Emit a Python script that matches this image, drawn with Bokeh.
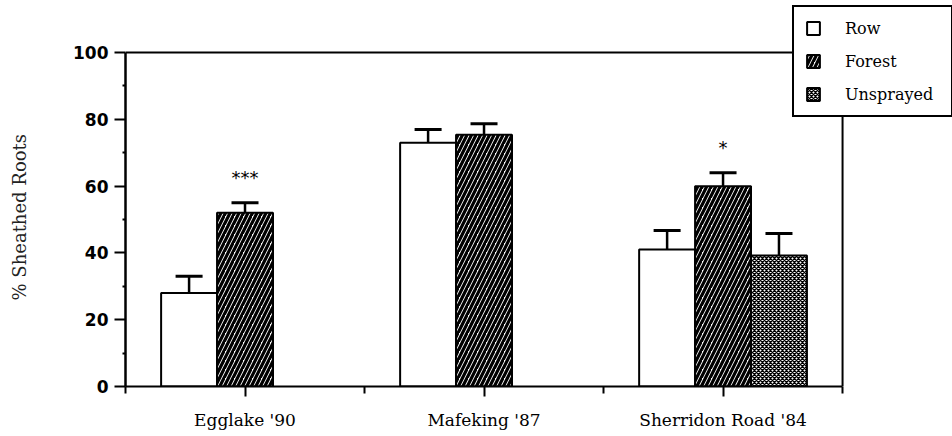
from bokeh.plotting import figure
from bokeh.models import (ColumnDataSource, Range1d, FixedTicker, Whisker, TeeHead,
                          Legend, LegendItem, Title, LinearAxis)
from bokeh.core.properties import value
from bokeh.embed import file_html
from bokeh.resources import INLINE

# Percentage of sheathed roots per site and treatment (mean and standard error)
sites = ["Egglake '90", "Mafeking '87", "Sherridon Road '84"]
row_mean = [28.0, 73.0, 41.0]
row_se = [5.0, 4.0, 5.7]
forest_mean = [52.0, 75.4, 60.0]
forest_se = [3.0, 3.3, 4.0]
unsprayed_sites = ["Sherridon Road '84"]
unsprayed_mean = [39.2]
unsprayed_se = [6.6]
significance = ["***", "", "*"]

y_ticks = [0, 20, 40, 60, 80, 100]
y_minor = [10, 30, 50, 70, 90]

# data box limits; the frame is a little larger so the legend can overhang the box
X_LIM = (0, 3)
Y_LIM = (0, 100)
X_VIEW_END = 3.46
Y_VIEW_END = 115.6

BAR_W = 0.234
centers = {s: i + 0.5 for i, s in enumerate(sites)}


def make_source(site_list, means, ses, offset):
    xs = [centers[s] + offset for s in site_list]
    return ColumnDataSource(dict(
        x=xs, top=means, upper=[m + e for m, e in zip(means, ses)]))


src_row = make_source(sites, row_mean, row_se, -BAR_W)
src_forest = make_source(sites, forest_mean, forest_se, 0.0)
src_unspr = make_source(unsprayed_sites, unsprayed_mean, unsprayed_se, BAR_W)

p = figure(width=952, height=436, output_backend="svg", toolbar_location=None,
           x_range=Range1d(X_LIM[0], X_VIEW_END),
           y_range=Range1d(Y_LIM[0], Y_VIEW_END),
           min_border_left=125, min_border_right=0,
           min_border_top=0, min_border_bottom=50)
p.background_fill_color = "white"
p.border_fill_color = "white"
p.outline_line_color = None
p.xgrid.visible = False
p.ygrid.visible = False

# top and right edges of the data box
p.line(x=[X_LIM[0], X_LIM[1], X_LIM[1]], y=[Y_LIM[1], Y_LIM[1], Y_LIM[0]],
       line_color="black", line_width=2)

# error bars (drawn first so the bars cover the lower half of each stem)
for src in (src_row, src_forest, src_unspr):
    w = Whisker(source=src, base="x", upper="upper", lower="top",
                line_color="black", line_width=2.5,
                upper_head=TeeHead(size=27, line_width=3, line_color="black"),
                lower_head=None, level="underlay")
    p.add_layout(w)

r_row = p.vbar(x="x", top="top", width=BAR_W, bottom=0, source=src_row,
               fill_color="white", line_color="black", line_width=2)
r_forest = p.vbar(x="x", top="top", width=BAR_W, bottom=0, source=src_forest,
                  fill_color="white", line_color="black", line_width=2,
                  hatch_pattern="/", hatch_color="black", hatch_scale=9,
                  hatch_weight=3.2)
r_unspr = p.vbar(x="x", top="top", width=BAR_W, bottom=0, source=src_unspr,
                 fill_color="white", line_color="black", line_width=2,
                 hatch_pattern="x", hatch_color="black", hatch_scale=4,
                 hatch_weight=1.4)

# significance markers above the Forest error bars
star_src = ColumnDataSource(dict(
    x=[centers[s] for s in sites],
    y=[m + e + 7.5 for m, e in zip(forest_mean, forest_se)],
    t=significance))
p.text(x="x", y="y", text="t", source=star_src, text_align="center",
       text_baseline="middle", text_font=value("DejaVu Sans"),
       text_font_size="18px", text_color="black")

# axes
xa = p.xaxis[0]
xa.bounds = X_LIM
xa.ticker = FixedTicker(ticks=[0.5, 1.5, 2.5], minor_ticks=[0, 1, 2, 3])
xa.major_label_overrides = {0.5: sites[0], 1.5: sites[1], 2.5: sites[2]}
xa.major_label_text_font = "DejaVu Serif"
xa.major_label_text_font_size = "17px"
xa.major_label_text_color = "black"
xa.major_label_standoff = 13
xa.major_tick_out = 10
xa.major_tick_in = 0
xa.minor_tick_out = 7
xa.minor_tick_in = 0
xa.axis_line_width = 2
xa.major_tick_line_width = 2
xa.minor_tick_line_width = 2

ya = p.yaxis[0]
ya.bounds = Y_LIM
ya.ticker = FixedTicker(ticks=y_ticks, minor_ticks=y_minor)
ya.major_label_text_font = "DejaVu Sans"
ya.major_label_text_font_style = "bold"
ya.major_label_text_font_size = "17px"
ya.major_label_text_color = "black"
ya.major_label_standoff = 6
ya.major_tick_out = 11
ya.major_tick_in = 0
ya.minor_tick_out = 3
ya.minor_tick_in = 0
ya.axis_line_width = 2.5
ya.major_tick_line_width = 2
ya.minor_tick_line_width = 2

# blank axis used only as a gap between the tick labels and the y title
gap_axis = LinearAxis(ticker=FixedTicker(ticks=[50], minor_ticks=[]),
                      major_label_overrides={50: ""},
                      axis_line_color=None, major_tick_line_color=None,
                      minor_tick_line_color=None,
                      major_tick_out=36, minor_tick_out=0, major_tick_in=0,
                      minor_tick_in=0, major_label_standoff=0)
p.add_layout(gap_axis, "left")

# y-axis title, centred on the 0-100 span rather than on the taller frame
y_title = Title(text="% Sheathed Roots", align="left", offset=86,
                text_font="DejaVu Serif", text_font_style="normal",
                text_font_size="18px", text_color="#222222")
p.add_layout(y_title, "left")

legend = Legend(items=[
    LegendItem(label="Row", renderers=[r_row]),
    LegendItem(label="Forest", renderers=[r_forest]),
    LegendItem(label="Unsprayed", renderers=[r_unspr]),
], location=(667, 269))
legend.border_line_color = "black"
legend.border_line_alpha = 1.0
legend.border_line_width = 2
legend.background_fill_color = "white"
legend.background_fill_alpha = 1.0
legend.label_text_font = "DejaVu Serif"
legend.label_text_font_size = "16px"
legend.label_text_color = "black"
legend.glyph_width = 16
legend.glyph_height = 16
legend.label_height = 20
legend.label_width = 95
legend.label_standoff = 24
legend.spacing = 13
legend.padding = 11
legend.margin = 0
p.add_layout(legend, "center")

open("out.html", "w").write(file_html(p, INLINE))
